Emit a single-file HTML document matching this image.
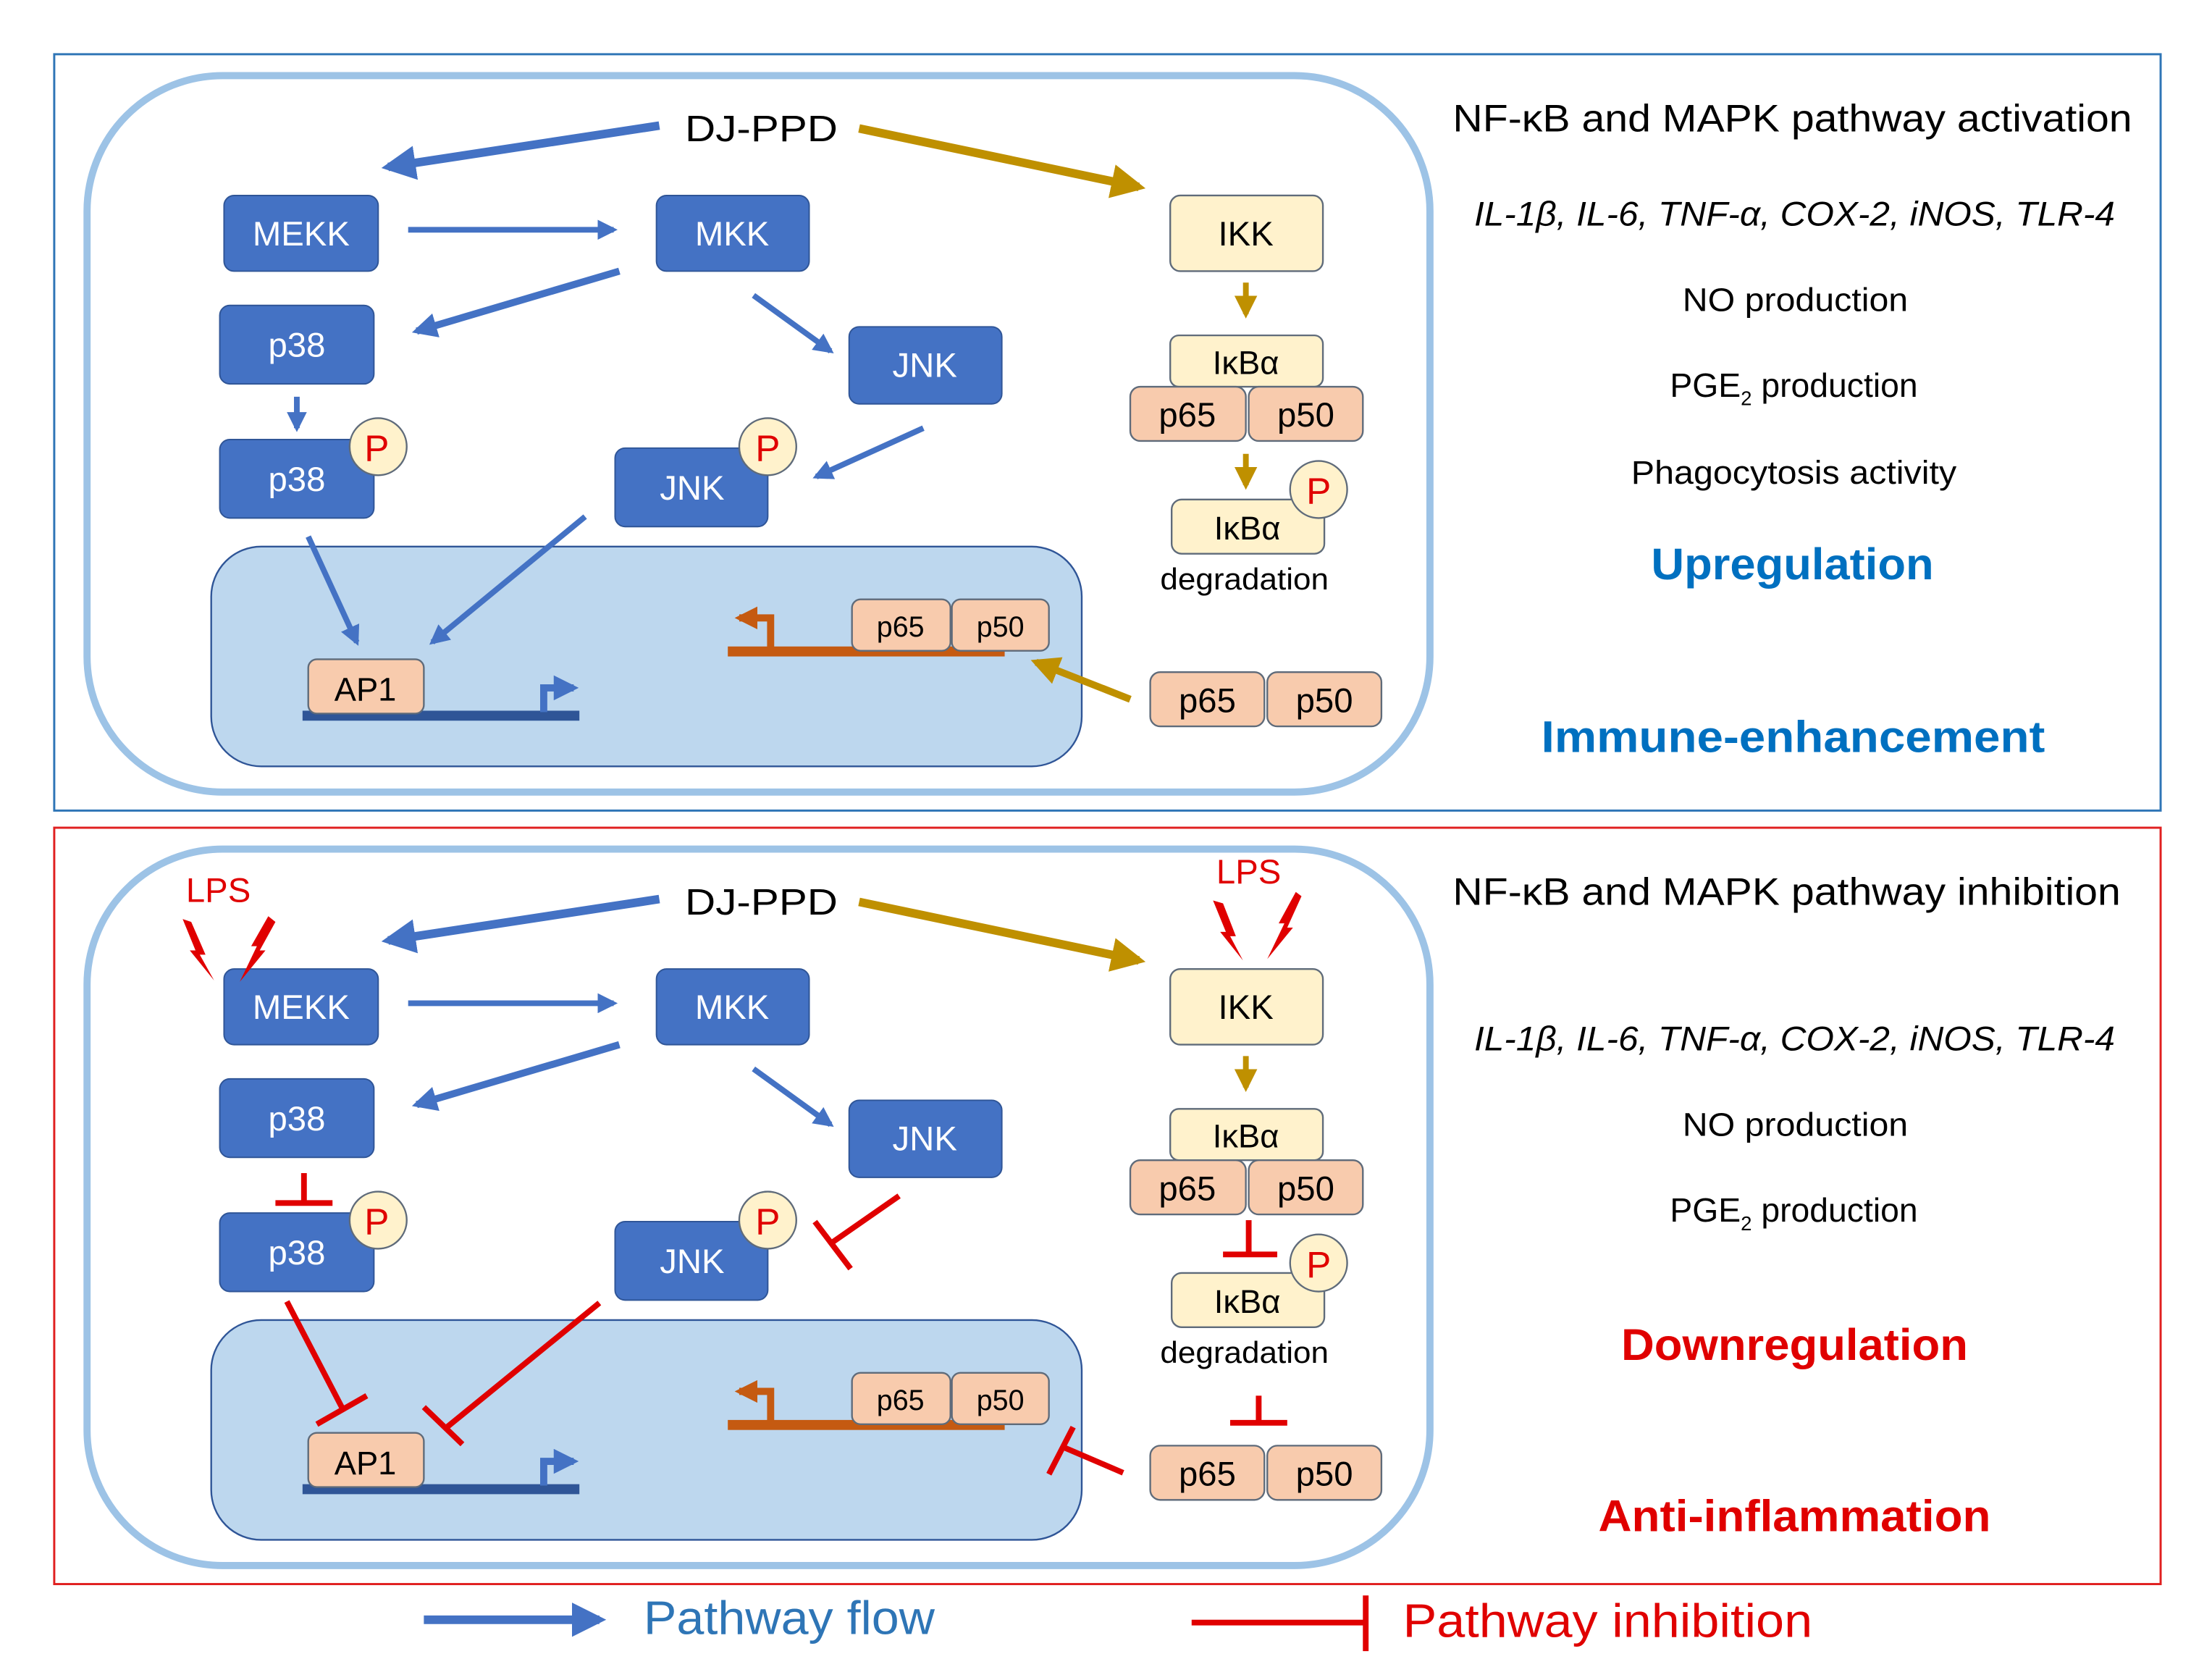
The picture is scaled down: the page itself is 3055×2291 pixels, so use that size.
<!DOCTYPE html>
<html><head><meta charset="utf-8"><style>
html,body{margin:0;padding:0;background:#fff;}
svg{display:block;}
text{font-family:"Liberation Sans",sans-serif;}
</style></head><body>
<svg width="3055" height="2291" viewBox="0 0 1550 1162.5" preserveAspectRatio="none" xmlns="http://www.w3.org/2000/svg">
<defs>
<marker id="ab" viewBox="0 0 10 10" refX="8" refY="5" markerWidth="4" markerHeight="4" orient="auto" markerUnits="strokeWidth"><path d="M0,0 L10,5 L0,10 z" fill="#4472c4"/></marker>
<marker id="ag" viewBox="0 0 10 10" refX="8" refY="5" markerWidth="4" markerHeight="4" orient="auto" markerUnits="strokeWidth"><path d="M0,0 L10,5 L0,10 z" fill="#bf9000"/></marker>
<marker id="ab2" viewBox="0 0 10 10" refX="8" refY="5" markerWidth="3.5" markerHeight="3.5" orient="auto" markerUnits="strokeWidth"><path d="M0,0 L10,5 L0,10 z" fill="#4472c4"/></marker>
<marker id="ao" viewBox="0 0 10 10" refX="8" refY="5" markerWidth="3.2" markerHeight="3.2" orient="auto" markerUnits="strokeWidth"><path d="M0,0 L10,5 L0,10 z" fill="#c55a11"/></marker>
</defs>

<rect x="38" y="38" width="1476" height="530" fill="#fff" stroke="#2e75b6" stroke-width="1.5"/>
<rect x="38" y="580" width="1476" height="530" fill="#fff" stroke="#e02020" stroke-width="1.5"/>

<!-- ============ TOP ============ -->
<g>
<rect x="61" y="53" width="941" height="502" rx="95" fill="#fff" stroke="#9dc3e6" stroke-width="5"/>
<rect x="148" y="383" width="610" height="154" rx="35" fill="#bdd7ee" stroke="#2f5597" stroke-width="1.2"/>
<text x="480" y="99" font-size="26" textLength="107" lengthAdjust="spacingAndGlyphs" fill="#000">DJ-PPD</text>
<line x1="462" y1="88" x2="272" y2="117" stroke="#4472c4" stroke-width="6" marker-end="url(#ab)"/>
<line x1="602" y1="90" x2="798" y2="131" stroke="#bf9000" stroke-width="6" marker-end="url(#ag)"/>
<g fill="#4472c4" stroke="#2f5597" stroke-width="1">
<rect x="157" y="137" width="108" height="53" rx="7"/>
<rect x="460" y="137" width="107" height="53" rx="7"/>
<rect x="154" y="214" width="108" height="55" rx="7"/>
<rect x="595" y="229" width="107" height="54" rx="7"/>
<rect x="154" y="308" width="108" height="55" rx="7"/>
<rect x="431" y="314" width="107" height="55" rx="7"/>
</g>
<g fill="#fff" font-size="24" text-anchor="middle">
<text x="211" y="172">MEKK</text><text x="513" y="172">MKK</text>
<text x="208" y="250">p38</text><text x="648" y="264">JNK</text>
<text x="208" y="344">p38</text><text x="485" y="350">JNK</text>
</g>
<line x1="286" y1="161" x2="430" y2="161" stroke="#4472c4" stroke-width="4" marker-end="url(#ab2)"/>
<line x1="434" y1="190" x2="292" y2="232" stroke="#4472c4" stroke-width="5" marker-end="url(#ab2)"/>
<line x1="528" y1="207" x2="582" y2="246" stroke="#4472c4" stroke-width="4" marker-end="url(#ab2)"/>
<line x1="208" y1="278" x2="208" y2="300" stroke="#4472c4" stroke-width="4" marker-end="url(#ab2)"/>
<line x1="647" y1="300" x2="572" y2="334" stroke="#4472c4" stroke-width="4" marker-end="url(#ab2)"/>
<line x1="216" y1="376" x2="250" y2="450" stroke="#4472c4" stroke-width="4" marker-end="url(#ab2)"/>
<line x1="410" y1="362" x2="303" y2="450" stroke="#4472c4" stroke-width="4" marker-end="url(#ab2)"/>
<rect x="820" y="137" width="107" height="53" rx="7" fill="#fff2cc" stroke="#5f6b7a" stroke-width="1.2"/>
<text x="873" y="172" font-size="24" text-anchor="middle">IKK</text>
<line x1="873" y1="198" x2="873" y2="220" stroke="#bf9000" stroke-width="4" marker-end="url(#ag)"/>
<rect x="820" y="235" width="107" height="36" rx="6" fill="#fff2cc" stroke="#5f6b7a" stroke-width="1.2"/>
<text x="873" y="262" font-size="23" text-anchor="middle">IκBα</text>
<rect x="792" y="271" width="81" height="38" rx="7" fill="#f8cbad" stroke="#5f6b7a" stroke-width="1.2"/>
<rect x="875" y="271" width="80" height="38" rx="7" fill="#f8cbad" stroke="#5f6b7a" stroke-width="1.2"/>
<text x="832" y="299" font-size="24" text-anchor="middle">p65</text><text x="915" y="299" font-size="24" text-anchor="middle">p50</text>
<line x1="873" y1="318" x2="873" y2="340" stroke="#bf9000" stroke-width="4" marker-end="url(#ag)"/>
<rect x="821" y="350" width="107" height="38" rx="7" fill="#fff2cc" stroke="#5f6b7a" stroke-width="1.2"/>
<text x="874" y="378" font-size="23" text-anchor="middle">IκBα</text>
<text x="813" y="413" font-size="21" textLength="118" lengthAdjust="spacingAndGlyphs">degradation</text>
<rect x="806" y="471" width="80" height="38" rx="7" fill="#f8cbad" stroke="#5f6b7a" stroke-width="1.2"/>
<rect x="888" y="471" width="80" height="38" rx="7" fill="#f8cbad" stroke="#5f6b7a" stroke-width="1.2"/>
<text x="846" y="499" font-size="24" text-anchor="middle">p65</text><text x="928" y="499" font-size="24" text-anchor="middle">p50</text>
<line x1="792" y1="490" x2="726" y2="464" stroke="#bf9000" stroke-width="5" marker-end="url(#ag)"/>
<g fill="#fff2cc" stroke="#5f6b7a" stroke-width="1.2"><circle cx="265" cy="313" r="20"/><circle cx="538" cy="313" r="20"/><circle cx="924" cy="343" r="20"/></g>
<g fill="#e00000" font-size="26" text-anchor="middle"><text x="264" y="323">P</text><text x="538" y="323">P</text><text x="924" y="353">P</text></g>
<rect x="212" y="498" width="194" height="7" fill="#2f5597"/>
<path d="M381,499 V482 H402" fill="none" stroke="#4472c4" stroke-width="5" marker-end="url(#ab2)"/>
<rect x="216" y="462" width="81" height="38" rx="6" fill="#f8cbad" stroke="#5f6b7a" stroke-width="1.2"/>
<text x="256" y="491" font-size="23" text-anchor="middle">AP1</text>
<rect x="510" y="453" width="194" height="7" fill="#c55a11"/>
<path d="M540,454 V433 H518" fill="none" stroke="#c55a11" stroke-width="5" marker-end="url(#ao)"/>
<rect x="597" y="420" width="69" height="36" rx="6" fill="#f8cbad" stroke="#5f6b7a" stroke-width="1.2"/>
<rect x="667" y="420" width="68" height="36" rx="6" fill="#f8cbad" stroke="#5f6b7a" stroke-width="1.2"/>
<text x="631" y="446" font-size="20" text-anchor="middle">p65</text><text x="701" y="446" font-size="20" text-anchor="middle">p50</text>
</g>
<g lengthAdjust="spacingAndGlyphs">
<text x="1018" y="92" font-size="27" textLength="476" lengthAdjust="spacingAndGlyphs">NF-κB and MAPK pathway  activation</text>
<text x="1033" y="158" font-size="24" font-style="italic" textLength="449" lengthAdjust="spacingAndGlyphs">IL-1β, IL-6, TNF-α, COX-2, iNOS, TLR-4</text>
<text x="1179" y="218" font-size="23" textLength="158" lengthAdjust="spacingAndGlyphs">NO production</text>
<text x="1257" y="278" font-size="23.5" text-anchor="middle">PGE<tspan font-size="14" dy="6">2</tspan><tspan dy="-6"> production</tspan></text>
<text x="1143" y="339" font-size="23" textLength="228" lengthAdjust="spacingAndGlyphs">Phagocytosis activity</text>
<text x="1157" y="406" font-size="31" font-weight="bold" fill="#0070c0" textLength="198" lengthAdjust="spacingAndGlyphs">Upregulation</text>
<text x="1080" y="527" font-size="31" font-weight="bold" fill="#0070c0" textLength="353" lengthAdjust="spacingAndGlyphs">Immune-enhancement</text>
</g>

<!-- ============ BOTTOM ============ -->
<g transform="translate(0,542)">
<rect x="61" y="53" width="941" height="502" rx="95" fill="#fff" stroke="#9dc3e6" stroke-width="5"/>
<rect x="148" y="383" width="610" height="154" rx="35" fill="#bdd7ee" stroke="#2f5597" stroke-width="1.2"/>
<text x="480" y="99" font-size="26" textLength="107" lengthAdjust="spacingAndGlyphs" fill="#000">DJ-PPD</text>
<line x1="462" y1="88" x2="272" y2="117" stroke="#4472c4" stroke-width="6" marker-end="url(#ab)"/>
<line x1="602" y1="90" x2="798" y2="131" stroke="#bf9000" stroke-width="6" marker-end="url(#ag)"/>
<g fill="#4472c4" stroke="#2f5597" stroke-width="1">
<rect x="157" y="137" width="108" height="53" rx="7"/>
<rect x="460" y="137" width="107" height="53" rx="7"/>
<rect x="154" y="214" width="108" height="55" rx="7"/>
<rect x="595" y="229" width="107" height="54" rx="7"/>
<rect x="154" y="308" width="108" height="55" rx="7"/>
<rect x="431" y="314" width="107" height="55" rx="7"/>
</g>
<g fill="#fff" font-size="24" text-anchor="middle">
<text x="211" y="172">MEKK</text><text x="513" y="172">MKK</text>
<text x="208" y="250">p38</text><text x="648" y="264">JNK</text>
<text x="208" y="344">p38</text><text x="485" y="350">JNK</text>
</g>
<line x1="286" y1="161" x2="430" y2="161" stroke="#4472c4" stroke-width="4" marker-end="url(#ab2)"/>
<line x1="434" y1="190" x2="292" y2="232" stroke="#4472c4" stroke-width="5" marker-end="url(#ab2)"/>
<line x1="528" y1="207" x2="582" y2="246" stroke="#4472c4" stroke-width="4" marker-end="url(#ab2)"/>
<g stroke="#e00000" stroke-width="4" fill="none">
<path d="M213,280 V301 M193,301 H233"/>
<path d="M630,296 L584,328 M571,314 L596,347"/>
<path d="M201,370 L240,445 M222,456 L257,436"/>
<path d="M420,371 L312,459 M297,444 L324,470"/>
<path d="M875,313 V337 M857,337 H895"/>
<path d="M882,436 V455 M862,455 H902"/>
<path d="M787,490 L745,472 M735,491 L752,458"/>
</g>
<rect x="820" y="137" width="107" height="53" rx="7" fill="#fff2cc" stroke="#5f6b7a" stroke-width="1.2"/>
<text x="873" y="172" font-size="24" text-anchor="middle">IKK</text>
<line x1="873" y1="198" x2="873" y2="220" stroke="#bf9000" stroke-width="4" marker-end="url(#ag)"/>
<rect x="820" y="235" width="107" height="36" rx="6" fill="#fff2cc" stroke="#5f6b7a" stroke-width="1.2"/>
<text x="873" y="262" font-size="23" text-anchor="middle">IκBα</text>
<rect x="792" y="271" width="81" height="38" rx="7" fill="#f8cbad" stroke="#5f6b7a" stroke-width="1.2"/>
<rect x="875" y="271" width="80" height="38" rx="7" fill="#f8cbad" stroke="#5f6b7a" stroke-width="1.2"/>
<text x="832" y="299" font-size="24" text-anchor="middle">p65</text><text x="915" y="299" font-size="24" text-anchor="middle">p50</text>
<rect x="821" y="350" width="107" height="38" rx="7" fill="#fff2cc" stroke="#5f6b7a" stroke-width="1.2"/>
<text x="874" y="378" font-size="23" text-anchor="middle">IκBα</text>
<text x="813" y="413" font-size="21" textLength="118" lengthAdjust="spacingAndGlyphs">degradation</text>
<rect x="806" y="471" width="80" height="38" rx="7" fill="#f8cbad" stroke="#5f6b7a" stroke-width="1.2"/>
<rect x="888" y="471" width="80" height="38" rx="7" fill="#f8cbad" stroke="#5f6b7a" stroke-width="1.2"/>
<text x="846" y="499" font-size="24" text-anchor="middle">p65</text><text x="928" y="499" font-size="24" text-anchor="middle">p50</text>
<g fill="#fff2cc" stroke="#5f6b7a" stroke-width="1.2"><circle cx="265" cy="313" r="20"/><circle cx="538" cy="313" r="20"/><circle cx="924" cy="343" r="20"/></g>
<g fill="#e00000" font-size="26" text-anchor="middle"><text x="264" y="323">P</text><text x="538" y="323">P</text><text x="924" y="353">P</text></g>
<rect x="212" y="498" width="194" height="7" fill="#2f5597"/>
<path d="M381,499 V482 H402" fill="none" stroke="#4472c4" stroke-width="5" marker-end="url(#ab2)"/>
<rect x="216" y="462" width="81" height="38" rx="6" fill="#f8cbad" stroke="#5f6b7a" stroke-width="1.2"/>
<text x="256" y="491" font-size="23" text-anchor="middle">AP1</text>
<rect x="510" y="453" width="194" height="7" fill="#c55a11"/>
<path d="M540,454 V433 H518" fill="none" stroke="#c55a11" stroke-width="5" marker-end="url(#ao)"/>
<rect x="597" y="420" width="69" height="36" rx="6" fill="#f8cbad" stroke="#5f6b7a" stroke-width="1.2"/>
<rect x="667" y="420" width="68" height="36" rx="6" fill="#f8cbad" stroke="#5f6b7a" stroke-width="1.2"/>
<text x="631" y="446" font-size="20" text-anchor="middle">p65</text><text x="701" y="446" font-size="20" text-anchor="middle">p50</text>
<text x="153" y="90" font-size="24" fill="#e00000" text-anchor="middle">LPS</text>
<text x="875" y="77" font-size="24" fill="#e00000" text-anchor="middle">LPS</text>
<g fill="#e00000">
<path d="M128,102 L137,124 L133,124 L150,145 L140,127 L144,127 L134,104 z"/>
<path d="M188,100 L176,121 L180,121 L168,146 L186,124 L182,124 L193,104 z"/>
<path d="M850,89 L859,111 L855,111 L871,131 L862,114 L866,114 L857,91 z"/>
<path d="M908,83 L896,105 L900,105 L888,130 L906,108 L902,108 L912,86 z"/>
</g>
</g>
<text x="1018" y="634" font-size="27" textLength="468" lengthAdjust="spacingAndGlyphs">NF-κB and MAPK pathway  inhibition</text>
<text x="1033" y="736" font-size="24" font-style="italic" textLength="449" lengthAdjust="spacingAndGlyphs">IL-1β, IL-6, TNF-α, COX-2, iNOS, TLR-4</text>
<text x="1179" y="796" font-size="23" textLength="158" lengthAdjust="spacingAndGlyphs">NO production</text>
<text x="1257" y="856" font-size="23.5" text-anchor="middle">PGE<tspan font-size="14" dy="6">2</tspan><tspan dy="-6"> production</tspan></text>
<text x="1136" y="953" font-size="31" font-weight="bold" fill="#e00000" textLength="243" lengthAdjust="spacingAndGlyphs">Downregulation</text>
<text x="1120" y="1073" font-size="31" font-weight="bold" fill="#e00000" textLength="275" lengthAdjust="spacingAndGlyphs">Anti-inflammation</text>
<line x1="297" y1="1135" x2="420" y2="1135" stroke="#4472c4" stroke-width="6" marker-end="url(#ab)"/>
<text x="451" y="1145" font-size="33" fill="#2e75b6" textLength="204" lengthAdjust="spacingAndGlyphs">Pathway flow</text>
<path d="M835,1137 H957 M957,1118 V1157" stroke="#e00000" stroke-width="4" fill="none"/>
<text x="983" y="1147" font-size="33" fill="#e00000" textLength="287" lengthAdjust="spacingAndGlyphs">Pathway inhibition</text>
</svg>
</body></html>
